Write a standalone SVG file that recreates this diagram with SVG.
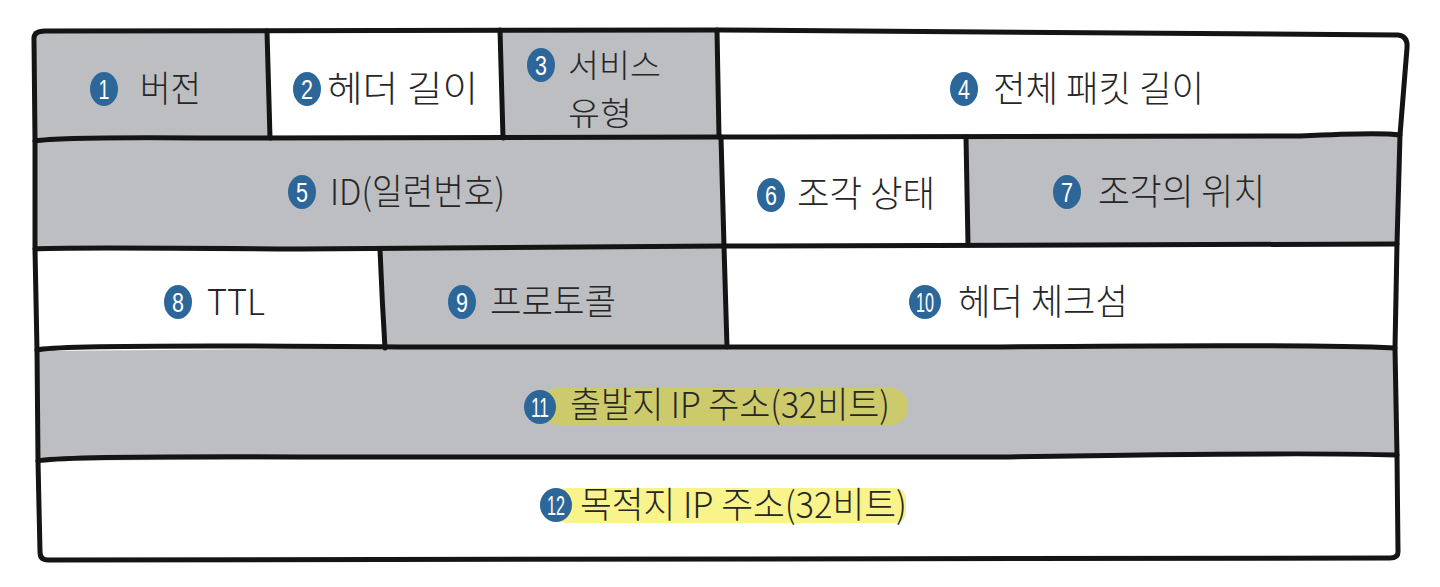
<svg xmlns="http://www.w3.org/2000/svg" width="1440" height="587" viewBox="0 0 1440 587">
<style>
.g{fill:#bdbec2}
.w{fill:#ffffff}
.ln{fill:none;stroke:#141414;stroke-width:5;stroke-linecap:round;stroke-linejoin:round}
.t{font-family:"Noto Sans CJK KR","Noto Sans",sans-serif;font-size:36px;font-weight:300;fill:#262626}
.s{font-size:32px}
.n{fill:#2d6699}
.d{font-family:"Liberation Sans Narrow","Liberation Sans",sans-serif;font-size:27px;fill:#ffffff;text-anchor:middle}
</style>
<rect x="0" y="0" width="1440" height="587" fill="#ffffff"/>
<g id="cell1"><polygon class="g" points="33,31 268,30 270,139 35,141"/><ellipse class="n" cx="104" cy="89" rx="14" ry="17"/><text class="d" x="104" y="99" textLength="11" lengthAdjust="spacingAndGlyphs">1</text><text class="t" x="140" y="102" textLength="61" lengthAdjust="spacingAndGlyphs">버전</text></g>
<g id="cell2"><polygon class="w" points="268,30 501,30 503,138 270,139"/><ellipse class="n" cx="307" cy="89" rx="14" ry="17"/><text class="d" x="307" y="99" textLength="12" lengthAdjust="spacingAndGlyphs">2</text><text class="t" x="327" y="102" textLength="151" lengthAdjust="spacingAndGlyphs">헤더 길이</text></g>
<g id="cell3"><polygon class="g" points="501,30 717,30 719,137 503,138"/><ellipse class="n" cx="541" cy="65" rx="14" ry="17"/><text class="d" x="541" y="75" textLength="12" lengthAdjust="spacingAndGlyphs">3</text><text class="t s" x="568" y="77" textLength="93" lengthAdjust="spacingAndGlyphs">서비스</text><text class="t s" x="568" y="125" textLength="64" lengthAdjust="spacingAndGlyphs">유형</text></g>
<g id="cell4"><polygon class="w" points="717,30 1400,35 1406,45 1400,135 719,137"/><ellipse class="n" cx="964" cy="89" rx="14" ry="17"/><text class="d" x="964" y="99" textLength="12" lengthAdjust="spacingAndGlyphs">4</text><text class="t" x="993" y="102" textLength="211" lengthAdjust="spacingAndGlyphs">전체 패킷 길이</text></g>
<g id="cell5"><polygon class="g" points="35,141 721,137 724,246 37,249"/><ellipse class="n" cx="302" cy="192" rx="14" ry="17"/><text class="d" x="302" y="202" textLength="12" lengthAdjust="spacingAndGlyphs">5</text><text class="t" x="330" y="205" textLength="175" lengthAdjust="spacingAndGlyphs">ID(일련번호)</text></g>
<g id="cell6"><polygon class="w" points="721,137 966,137 968,245 724,246"/><ellipse class="n" cx="771" cy="195" rx="14" ry="17"/><text class="d" x="771" y="205" textLength="12" lengthAdjust="spacingAndGlyphs">6</text><text class="t" x="797" y="207" textLength="138" lengthAdjust="spacingAndGlyphs">조각 상태</text></g>
<g id="cell7"><polygon class="g" points="966,137 1400,135 1397,244 968,245"/><ellipse class="n" cx="1067" cy="192" rx="14" ry="17"/><text class="d" x="1067" y="202" textLength="12" lengthAdjust="spacingAndGlyphs">7</text><text class="t" x="1098" y="205" textLength="167" lengthAdjust="spacingAndGlyphs">조각의 위치</text></g>
<g id="cell8"><polygon class="w" points="37,249 380,249 385,348 38,351"/><ellipse class="n" cx="178" cy="302" rx="14" ry="17"/><text class="d" x="178" y="312" textLength="12" lengthAdjust="spacingAndGlyphs">8</text><text class="t" x="207" y="315" textLength="58" lengthAdjust="spacingAndGlyphs">TTL</text></g>
<g id="cell9"><polygon class="g" points="380,249 724,246 727,347 385,348"/><ellipse class="n" cx="462" cy="302" rx="14" ry="17"/><text class="d" x="462" y="312" textLength="12" lengthAdjust="spacingAndGlyphs">9</text><text class="t" x="490" y="315" textLength="126" lengthAdjust="spacingAndGlyphs">프로토콜</text></g>
<g id="cell10"><polygon class="w" points="724,246 1397,244 1395,348 727,347"/><ellipse class="n" cx="925" cy="302" rx="16" ry="17"/><text class="d" x="925" y="312" textLength="18" lengthAdjust="spacingAndGlyphs">10</text><text class="t" x="958" y="315" textLength="170" lengthAdjust="spacingAndGlyphs">헤더 체크섬</text></g>
<g id="cell11"><polygon class="g" points="38,351 700,346 1395,348 1397,455 700,457 39,461"/><rect x="540" y="388" width="368" height="37" rx="18" fill="#cdca6c"/><ellipse class="n" cx="540" cy="407" rx="16" ry="17"/><text class="d" x="540" y="417" textLength="18" lengthAdjust="spacingAndGlyphs">11</text><text class="t" x="570" y="418" textLength="320" lengthAdjust="spacingAndGlyphs">출발지 IP 주소(32비트)</text></g>
<g id="cell12"><polygon class="w" points="39,461 700,457 1397,455 1397,557 40,560"/><rect x="556" y="488" width="350" height="35" rx="10" fill="#f8f38a"/><ellipse class="n" cx="556" cy="505" rx="16" ry="17"/><text class="d" x="556" y="515" textLength="18" lengthAdjust="spacingAndGlyphs">12</text><text class="t" x="580" y="518" textLength="327" lengthAdjust="spacingAndGlyphs">목적지 IP 주소(32비트)</text></g>
<g id="grid">
<path class="ln" d="M34,40 Q33,31 45,31 L720,30 Q1100,32 1398,35 Q1408,36 1407,48 L1400,135 L1397,244 L1395,348 L1397,455 L1398,552 Q1398,558 1390,558 L48,560 Q40,560 40,552 L38,461 L37,350 L35,249 L35,141 Z"/>
<path class="ln" d="M35,141 Q60,137 200,138 L721,137 Q1000,136 1300,136 Q1380,132 1400,135"/>
<path class="ln" d="M35,249 Q50,247 300,249 L724,246 L1397,244"/>
<path class="ln" d="M37,350 Q60,344 400,347 L1000,347 Q1300,344 1395,348"/>
<path class="ln" d="M38,461 Q60,456 300,457 L1000,457 Q1300,452 1397,455"/>
<path class="ln" d="M267,31 L270,138"/>
<path class="ln" d="M500,30 L503,138"/>
<path class="ln" d="M717,30 L719,137"/>
<path class="ln" d="M721,137 L724,246"/>
<path class="ln" d="M966,137 L968,245"/>
<path class="ln" d="M380,249 Q382,300 385,348"/>
<path class="ln" d="M724,246 L727,347"/>
</g>
</svg>
